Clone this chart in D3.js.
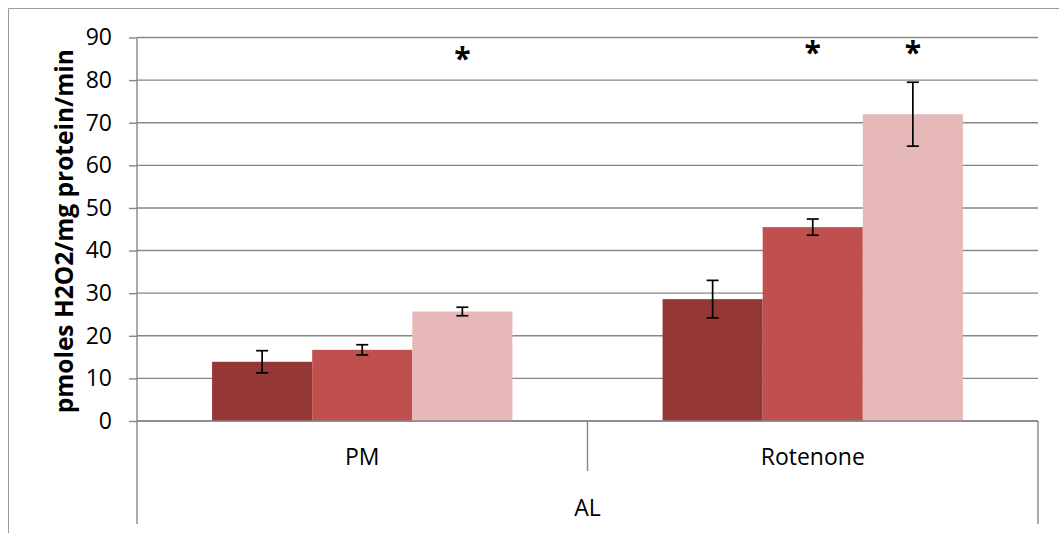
<!DOCTYPE html>
<html><head><meta charset="utf-8">
<script src="https://cdn.jsdelivr.net/npm/d3@7"></script>
<style>
html,body{margin:0;padding:0;background:#fff;}
svg{display:block;}
text{font-family:"Open Sans",sans-serif;fill:#000;}
</style></head>
<body>
<script>
// ---- data ----
const categories = ["PM", "Rotenone"];
const groupLabel = "AL";
const series = ["s1", "s2", "s3"];
const values = [
  [13.9, 16.7, 25.7],   // PM
  [28.6, 45.5, 72.0]    // Rotenone
];
const errors = [
  [2.6, 1.2, 1.0],
  [4.4, 1.9, 7.5]
];
// significance marks: [category index, series index, level on value axis]
const sigCat = [0, 1, 1];
const sigSer = [2, 1, 2];
const sigLevel = [86.8, 88.2, 88.2];
const yTicks = [0, 10, 20, 30, 40, 50, 60, 70, 80, 90];
const yTitle = "pmoles H2O2/mg protein/min";

// ---- styling / layout ----
const W = 1059, H = 533;
const colors = ["#953735", "#C0504D", "#E6B9B8"];
const gridColor = "#878787";
const plot = {left: 137, right: 1038, top: 37.5, bottom: 421};

const svg = d3.select("body").append("svg").attr("width", W).attr("height", H);

// outer chart border
svg.append("path").attr("d", `M8.5,${H} V8.5 H${W}`)
  .attr("fill", "none").attr("stroke", "#9a9a9a").attr("stroke-width", 1);

const y = d3.scaleLinear().domain([0, 90]).range([plot.bottom, plot.top]);
const x0 = d3.scaleBand().domain(categories).range([plot.left, plot.right]).padding(0);
const bw = x0.bandwidth();
const x1 = d3.scaleBand().domain(series).range([bw / 6, bw * 5 / 6]).padding(0);

// gridlines
svg.append("g").selectAll("line").data(yTicks).join("line")
  .attr("x1", plot.left).attr("x2", plot.right)
  .attr("y1", d => y(d)).attr("y2", d => y(d))
  .attr("stroke", gridColor).attr("stroke-width", 1.4);

// y axis
const yAxis = d3.axisLeft(y).tickValues(yTicks).tickSize(8).tickPadding(17);
const gy = svg.append("g").attr("transform", `translate(${plot.left},0)`).call(yAxis);
gy.select(".domain").remove();
gy.selectAll(".tick line").attr("stroke", gridColor).attr("stroke-width", 1.4);
gy.selectAll(".tick text").attr("font-size", 23).attr("font-family", "Open Sans").attr("fill", "#000");

// y axis line extended through category area
svg.append("line").attr("x1", plot.left).attr("x2", plot.left)
  .attr("y1", plot.top).attr("y2", 524)
  .attr("stroke", gridColor).attr("stroke-width", 1.4);

// bars
const groups = svg.append("g").selectAll("g").data(categories).join("g")
  .attr("transform", c => `translate(${x0(c)},0)`);
groups.selectAll("rect").data((c, i) => values[i].map((v, j) => ({v, j, e: errors[i][j]})))
  .join("rect")
  .attr("x", d => x1(series[d.j]))
  .attr("width", x1.bandwidth())
  .attr("y", d => y(d.v))
  .attr("height", d => y(0) - y(d.v))
  .attr("fill", d => colors[d.j]);

// baseline redrawn on top
svg.append("line").attr("x1", plot.left).attr("x2", plot.right)
  .attr("y1", y(0)).attr("y2", y(0)).attr("stroke", gridColor).attr("stroke-width", 1.4);

// error bars
const cap = 6;
groups.each(function(c, i) {
  const g = d3.select(this);
  values[i].forEach((v, j) => {
    const cx = x1(series[j]) + x1.bandwidth() / 2;
    const e = errors[i][j];
    const eg = g.append("g").attr("stroke", "#000").attr("stroke-width", 1.7);
    eg.append("line").attr("x1", cx).attr("x2", cx).attr("y1", y(v + e)).attr("y2", y(v - e));
    eg.append("line").attr("x1", cx - cap).attr("x2", cx + cap).attr("y1", y(v + e)).attr("y2", y(v + e));
    eg.append("line").attr("x1", cx - cap).attr("x2", cx + cap).attr("y1", y(v - e)).attr("y2", y(v - e));
  });
});

// significance asterisks
svg.append("g").selectAll("text").data(sigLevel).join("text")
  .attr("x", (d, k) => x0(categories[sigCat[k]]) + x1(series[sigSer[k]]) + x1.bandwidth() / 2)
  .attr("y", d => y(d))
  .attr("dy", "0.6em")
  .attr("text-anchor", "middle")
  .attr("font-size", 30)
  .attr("font-weight", "bold")
  .attr("font-family", "Liberation Sans")
  .text("*");

// category separators
const sep = svg.append("g").attr("stroke", gridColor).attr("stroke-width", 1.4);
categories.slice(1).forEach(c => {
  sep.append("line").attr("x1", x0(c)).attr("x2", x0(c)).attr("y1", y(0)).attr("y2", 471);
});
sep.append("line").attr("x1", plot.right).attr("x2", plot.right).attr("y1", y(0)).attr("y2", 524);

// category labels
svg.append("g").selectAll("text").data(categories).join("text")
  .attr("x", c => x0(c) + bw / 2).attr("y", 465)
  .attr("text-anchor", "middle").attr("font-size", 23)
  .text(c => c);

// group label
svg.append("text").attr("x", (plot.left + plot.right) / 2).attr("y", 516)
  .attr("text-anchor", "middle").attr("font-size", 23).text(groupLabel);

// y title
svg.append("text")
  .attr("transform", `translate(73,${(plot.top + plot.bottom) / 2 + 2}) rotate(-90)`)
  .attr("text-anchor", "middle").attr("font-size", 24.5).attr("font-weight", "bold")
  .text(yTitle);
</script>
</body></html>
